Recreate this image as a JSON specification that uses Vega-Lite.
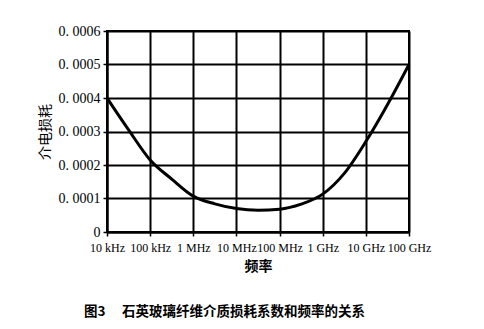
{
  "$schema": "https://vega.github.io/schema/vega-lite/v6.json",
  "width": 302,
  "height": 201,
  "autosize": {"type": "none"},
  "padding": {"left": 107, "top": 31, "right": 75, "bottom": 97},
  "background": "white",
  "config": {
    "view": {"stroke": "black", "strokeWidth": 2},
    "axis": {
      "gridColor": "black",
      "gridWidth": 2,
      "gridOpacity": 1,
      "domainColor": "black",
      "domainWidth": 2,
      "tickColor": "black",
      "tickWidth": 1.5,
      "tickSize": 4,
      "labelColor": "black",
      "titleColor": "black"
    }
  },
  "title": {
    "text": "图3　 石英玻璃纤维介质损耗系数和频率的关系",
    "orient": "bottom",
    "anchor": "start",
    "dx": 46,
    "offset": 32,
    "font": "Noto Sans CJK SC",
    "fontSize": 13.5,
    "fontWeight": "bold",
    "color": "black"
  },
  "data": {
    "values": [
      {"frequency_hz": 10000, "loss": 0.0004},
      {"frequency_hz": 31623, "loss": 0.000305},
      {"frequency_hz": 100000, "loss": 0.000215},
      {"frequency_hz": 316228, "loss": 0.000158},
      {"frequency_hz": 1000000, "loss": 0.000107},
      {"frequency_hz": 3162278, "loss": 0.000084},
      {"frequency_hz": 10000000, "loss": 0.00007},
      {"frequency_hz": 31622777, "loss": 0.000065},
      {"frequency_hz": 100000000, "loss": 0.000068},
      {"frequency_hz": 316227766, "loss": 0.000083},
      {"frequency_hz": 1000000000, "loss": 0.000113},
      {"frequency_hz": 3162277660, "loss": 0.000175},
      {"frequency_hz": 10000000000, "loss": 0.00027},
      {"frequency_hz": 31622776602, "loss": 0.00038},
      {"frequency_hz": 100000000000, "loss": 0.0005}
    ]
  },
  "mark": {"type": "line", "color": "black", "strokeWidth": 3, "interpolate": "monotone"},
  "encoding": {
    "x": {
      "field": "frequency_hz",
      "type": "quantitative",
      "scale": {"type": "log", "domain": [10000, 100000000000], "nice": false},
      "axis": {
        "values": [10000, 100000, 1000000, 10000000, 100000000, 1000000000, 10000000000, 100000000000],
        "labelExpr": "['10 kHz','100 kHz','1 MHz','10 MHz','100 MHz','1 GHz','10 GHz','100 GHz'][round(log(datum.value)/LN10)-4]",
        "labelOverlap": false,
        "labelFlush": false,
        "labelFont": "Liberation Serif",
        "labelFontSize": 12,
        "labelPadding": 6,
        "title": "频率",
        "titleFont": "Noto Sans CJK SC",
        "titleFontSize": 14,
        "titleFontWeight": "bold",
        "titlePadding": 6
      }
    },
    "y": {
      "field": "loss",
      "type": "quantitative",
      "scale": {"domain": [0, 0.0006], "nice": false},
      "axis": {
        "values": [0, 0.0001, 0.0002, 0.0003, 0.0004, 0.0005, 0.0006],
        "labelExpr": "datum.value == 0 ? '0' : replace(format(datum.value, '.4f'), '.', '. ')",
        "labelFont": "Liberation Serif",
        "labelFontSize": 14,
        "labelPadding": 3,
        "title": "介电损耗",
        "titleFont": "Noto Sans CJK SC",
        "titleFontSize": 14,
        "titleFontWeight": "normal",
        "titlePadding": 6
      }
    }
  }
}
